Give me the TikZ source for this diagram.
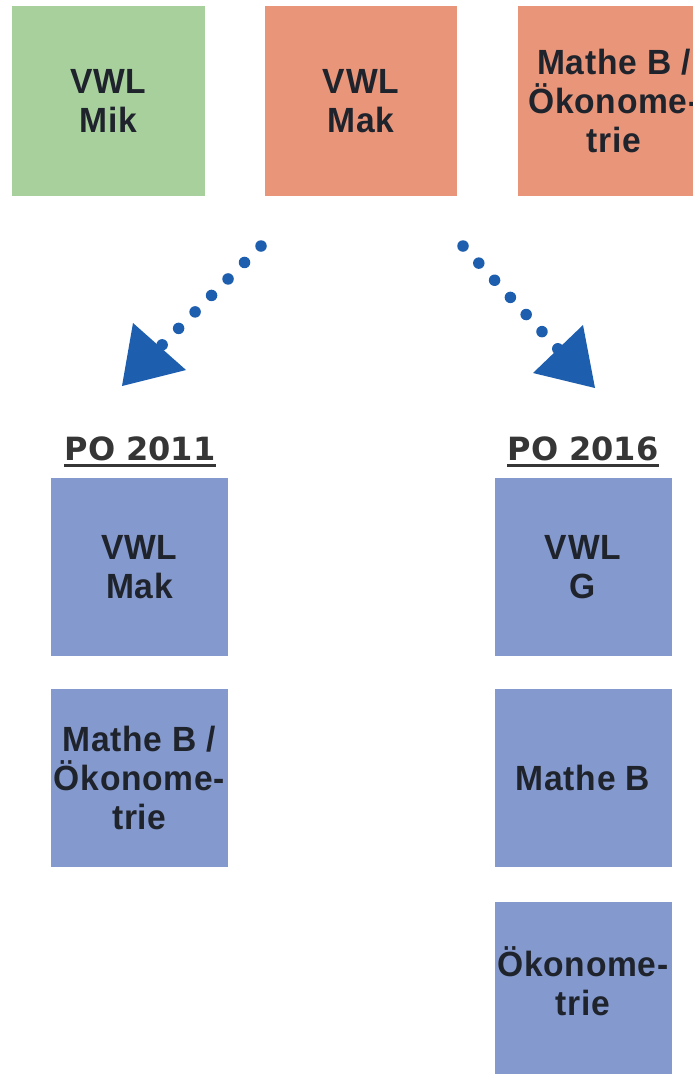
\documentclass[tikz,border=0pt]{standalone}
\usepackage{fontspec}
\setmainfont{DejaVu Sans}
\newfontfamily\boxfont[LetterSpace=2,FakeStretch=0.96]{Liberation Sans}
\definecolor{mikgreen}{HTML}{A8D09C}
\definecolor{maksalmon}{HTML}{E8957A}
\definecolor{poblue}{HTML}{8499CD}
\definecolor{arrowblue}{HTML}{1E5EAE}
\definecolor{boxtext}{HTML}{1F232C}
\definecolor{headtext}{HTML}{363636}
\begin{document}
\begin{tikzpicture}[x=1pt,y=-1pt,
  modbox/.style={fill=#1, draw=none, inner sep=0pt, align=center,
    text=boxtext, font=\boxfont\bfseries\fontsize{35}{39}\selectfont},
  topbox/.style={modbox=#1, minimum width=192pt, minimum height=190pt},
  pobox/.style={modbox=poblue, minimum width=177pt, minimum height=178pt},
  heading/.style={inner sep=0pt, anchor=base, text=headtext,
    font=\bfseries\fontsize{32}{38}\selectfont},
  uline/.style={draw=headtext, line width=2.5pt},
  dotline/.style={draw=arrowblue, line width=11.5pt, line cap=round,
    dash pattern=on 0pt off 23.3pt},
  headtip/.style={fill=arrowblue, draw=none}]
\useasboundingbox (0,0) rectangle (693,1074);
\clip (0,0) rectangle (693,1074);
\fill[white] (0,0) rectangle (693,1074);

% top row
\node[topbox=mikgreen, minimum width=193pt] (mik) at (108.5,101) {VWL\\Mik};
\node[topbox=maksalmon] (mak) at (361,101) {VWL\\Mak};
\node[topbox=maksalmon] (matheoek) at (614,101) {Mathe B /\\Ökonome-\\trie};

% headings
\node[heading] (po11) at (140,460) {PO 2011};
\node[heading] (po16) at (583,460) {PO 2016};
\draw[uline] ([yshift=-5.5pt]po11.base west) -- ([yshift=-5.5pt]po11.base east);
\draw[uline] ([yshift=-5.5pt]po16.base west) -- ([yshift=-5.5pt]po16.base east);

% PO 2011 column
\node[pobox] (l1) at (139.5,567) {VWL\\Mak};
\node[pobox] (l2) at (139.5,778) {Mathe B /\\Ökonome-\\trie};

% PO 2016 column
\node[pobox] (r1) at (583,567) {VWL\\G};
\node[pobox] (r2) at (583,778) {Mathe B};
\node[pobox, minimum height=172pt, text depth=14pt] (r3) at (583,988) {Ökonome-\\trie};

% arrows
\coordinate (s1) at (261,246);
\coordinate (b1) at (160,347);
\coordinate (t1) at (122,386);
\coordinate (c1a) at (133,323);
\coordinate (c1b) at (186,370);
\coordinate (s2) at (463,246);
\coordinate (b2) at (558,349);
\coordinate (t2) at (595,388);
\coordinate (c2a) at (583,325);
\coordinate (c2b) at (533,373);

\draw[dotline] (s1) -- (b1);
\fill[headtip] (t1) -- (c1a) -- (c1b) -- cycle;
\draw[dotline] (s2) -- (b2);
\fill[headtip] (t2) -- (c2a) -- (c2b) -- cycle;
\end{tikzpicture}
\end{document}
